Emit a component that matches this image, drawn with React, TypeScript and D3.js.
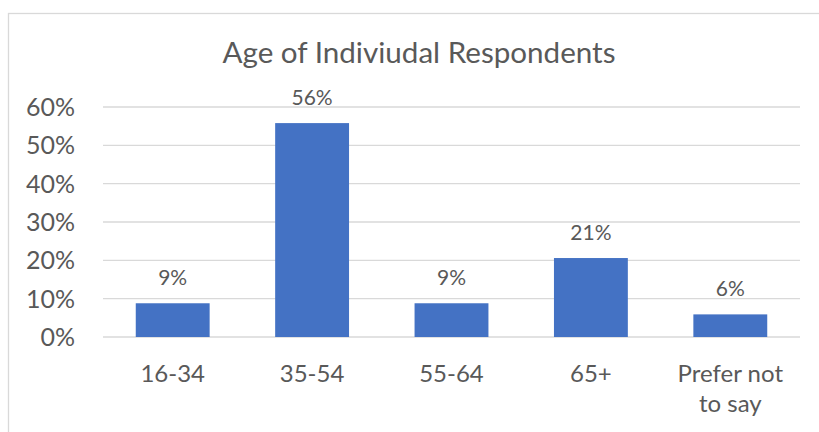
import React from "react";
import * as d3 from "d3";

const categories = ["16-34", "35-54", "55-64", "65+", "Prefer not|to say"];
const shares = [0.088, 0.558, 0.088, 0.206, 0.059];
const yTicks = [0, 0.1, 0.2, 0.3, 0.4, 0.5, 0.6];
const title = "Age of Indiviudal Respondents";

const W = 819;
const H = 432;
const FONT = "Lato, 'Open Sans', sans-serif";
const TEXT = "#595959";
const GRID = "#d9d9d9";
const BAR = "#4472C4";

export default function App() {
  const x = d3
    .scaleBand<string>()
    .domain(categories)
    .range([103, 800])
    .paddingInner(0.47)
    .paddingOuter(0.235);
  const y = d3.scaleLinear().domain([0, 0.6]).range([337, 107]);
  const pct = d3.format(".0%");

  return (
    <svg
      width={W}
      height={H}
      style={{ position: "absolute", left: 0, top: 0, background: "#fff" }}
      fontFamily={FONT}
    >
      <rect x={0} y={0} width={W} height={H} fill="#fff" />
      {/* chart frame, clipped at the right and bottom edges */}
      <rect x={8.5} y={13.5} width={W + 10} height={H + 10} fill="none" stroke={GRID} strokeWidth={1.3} />

      <text x={419} y={63} textAnchor="middle" fontSize={29.6} fill={TEXT}>
        {title}
      </text>

      {yTicks.map((t) => (
        <g key={t}>
          <line x1={103} x2={800} y1={y(t)} y2={y(t)} stroke={GRID} strokeWidth={1.3} />
          <text x={75} y={y(t) + 9} textAnchor="end" fontSize={25} fill={TEXT}>
            {pct(t)}
          </text>
        </g>
      ))}

      {categories.map((c, i) => {
        const bx = x(c)!;
        const bw = x.bandwidth();
        const cx = bx + bw / 2;
        const lines = c.split("|");
        return (
          <g key={c}>
            <rect x={bx} y={y(shares[i])} width={bw} height={y(0) - y(shares[i])} fill={BAR} />
            <text x={cx} y={y(shares[i]) - 18} textAnchor="middle" fontSize={21} fill={TEXT}>
              {pct(shares[i])}
            </text>
            <text x={cx} y={382} textAnchor="middle" fontSize={24} fill={TEXT}>
              {lines.map((l, k) => (
                <tspan key={k} x={cx} dy={k === 0 ? 0 : 30}>
                  {l}
                </tspan>
              ))}
            </text>
          </g>
        );
      })}
    </svg>
  );
}
